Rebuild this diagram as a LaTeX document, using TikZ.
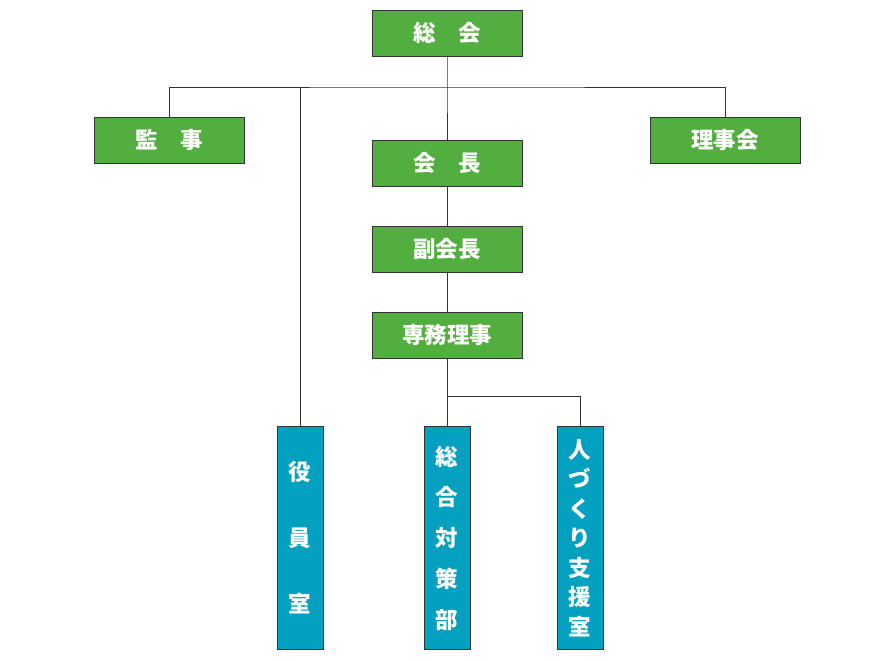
\documentclass[tikz,border=0pt]{standalone}
\usepackage{fontspec}
\newfontfamily\cjk{Noto Sans CJK JP}
\begin{document}
\begin{tikzpicture}[x=0.025cm, y=-0.025cm,
  hbox/.style={draw=black!80, fill=orggreen, text=white, minimum width=3.75cm,
    minimum height=1.15cm, inner sep=0pt, font=\cjk\bfseries\fontsize{16}{16}\selectfont},
  vbox/.style={draw=black!80, fill=orgblue, text=white, minimum width=1.15cm,
    minimum height=5.58cm, inner sep=0pt, align=center},
  link/.style={draw=black!80, line width=0.6pt}]
\definecolor{orggreen}{HTML}{52AE3E}
\definecolor{orgblue}{HTML}{04A0C0}
\useasboundingbox (0,0) rectangle (896,660);

\node[hbox] at (447,33)  (sokai)   {総　会};
\node[hbox] at (169.5,140) (kanji) {監　事};
\node[hbox] at (725,140) (rijikai) {理事会};
\node[hbox] at (447,163) (kaicho)  {会　長};
\node[hbox] at (447,249) (fuku)    {副会長};
\node[hbox] at (447,335) (senmu)   {専務理事};

\node[vbox, font=\cjk\bfseries\fontsize{16}{47}\selectfont] at (300,538) (yakuin) {役\\員\\室};
\node[vbox, font=\cjk\bfseries\fontsize{16}{29}\selectfont] at (447,538) (sogo) {総\\合\\対\\策\\部};
\node[vbox, font=\cjk\bfseries\fontsize{16}{21}\selectfont] at (580,538) (hito) {人\\づ\\く\\り\\支\\援\\室};

%connectors
\coordinate (bar) at (447,87);
\coordinate (fork) at (447,396);
\draw[link] (sokai.south) -- (bar) -- (kaicho.north);
\draw[link] (kanji.north) |- (bar) -| (rijikai.north);
\draw[link] (yakuin.north) -- (yakuin.north |- bar);
\draw[link] (kaicho) -- (fuku) -- (senmu);
\draw[link] (senmu.south) -- (sogo.north);
\draw[link] (fork) -| (hito.north);
\end{tikzpicture}
\end{document}
